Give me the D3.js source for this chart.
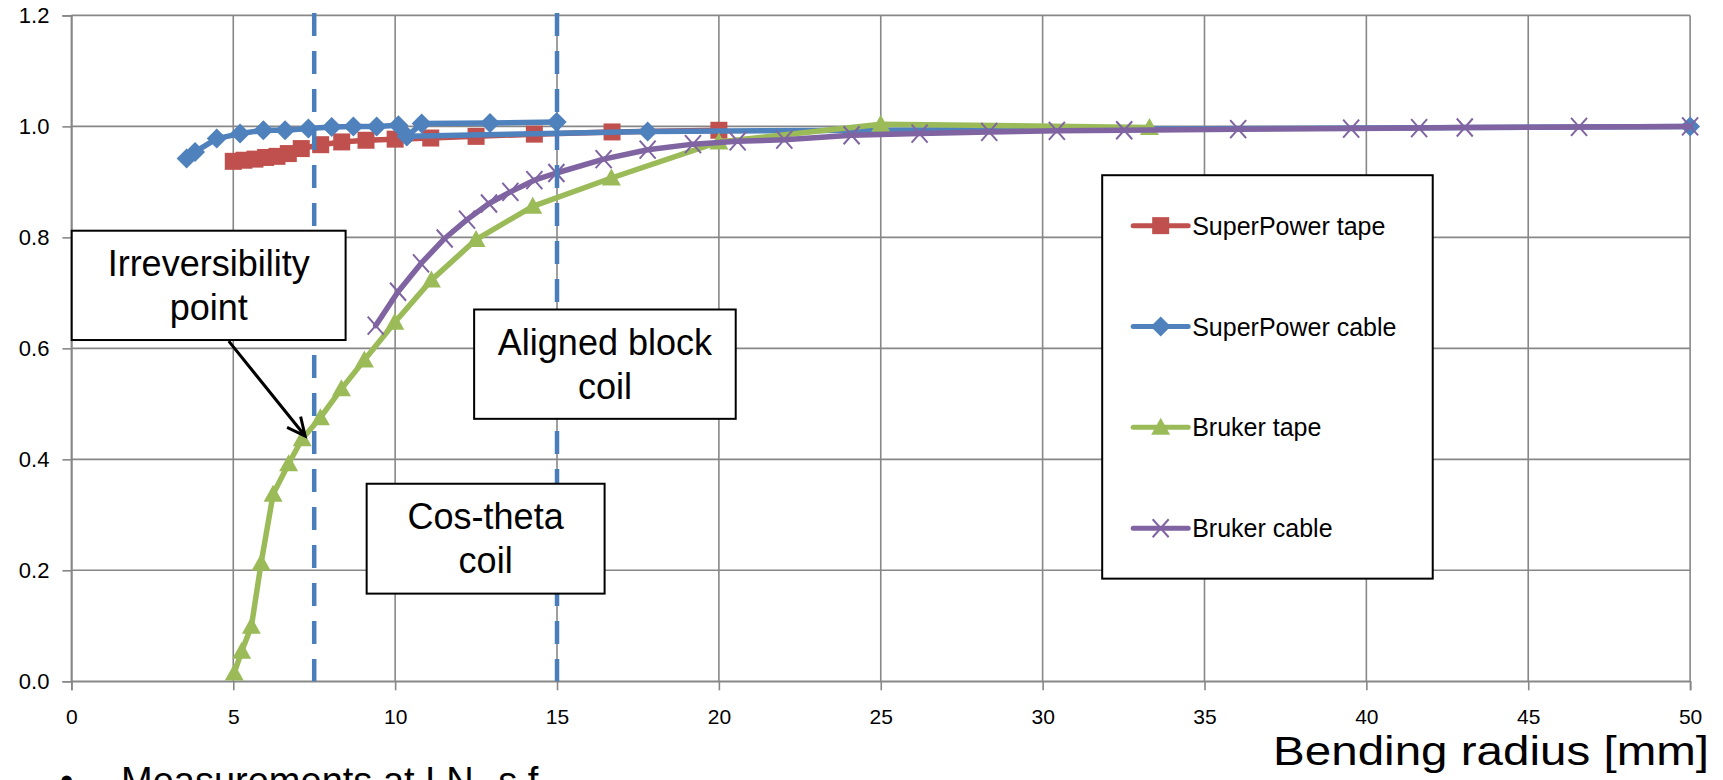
<!DOCTYPE html>
<html><head><meta charset="utf-8">
<script src="https://cdn.jsdelivr.net/npm/d3@7"></script>
<style>body{margin:0;background:#fff;overflow:hidden;} svg{display:block;}</style>
</head><body><svg id="c" width="1723" height="780"></svg>
<script>
// ---------- data ----------
const xTicks = [0, 5, 10, 15, 20, 25, 30, 35, 40, 45, 50];
const yTicks = [0.0, 0.2, 0.4, 0.6, 0.8, 1.0, 1.2];

const seriesNames  = ["SuperPower tape", "SuperPower cable", "Bruker tape", "Bruker cable"];
const seriesColors = ["#c0504d", "#4f81bd", "#9bbb59", "#8064a2"];
const seriesMarkers = ["square", "diamond", "triangle", "cross"];

const spTapeX = [5.0, 5.33, 5.67, 6.0, 6.35, 6.7, 7.1, 7.7, 8.35, 9.1, 10.0, 11.1, 12.5, 14.3, 16.7, 20.0];
const spTapeY = [0.937, 0.939, 0.941, 0.944, 0.946, 0.951, 0.960, 0.967, 0.972, 0.975, 0.977, 0.979, 0.982, 0.986, 0.990, 0.993];

const spCableX  = [3.56, 3.82, 4.49, 5.21, 5.93, 6.6, 7.32, 8.04, 8.71, 9.43, 10.1, 10.36, 10.82, 12.93, 14.99];
const spCableY  = [0.942, 0.954, 0.978, 0.987, 0.993, 0.993, 0.996, 0.999, 1.0, 1.0, 1.002, 0.982, 1.005, 1.006, 1.008];
const spCableX2 = [10.36, 17.8, 50];
const spCableY2 = [0.982, 0.991, 1.0];

const bkTapeX = [5.03, 5.26, 5.56, 5.86, 6.23, 6.71, 7.13, 7.69, 8.34, 9.05, 9.99, 11.12, 12.5, 14.25, 16.68, 20.0, 25.0, 33.3];
const bkTapeY = [0.015, 0.054, 0.099, 0.213, 0.337, 0.392, 0.437, 0.475, 0.527, 0.579, 0.647, 0.723, 0.796, 0.856, 0.907, 0.972, 1.004, 0.998];

const bkCableX = [9.4, 10.09, 10.8, 11.53, 12.22, 12.9, 13.56, 14.3, 14.98, 16.44, 17.8, 19.2, 20.58, 22.02, 24.1, 26.2, 28.35, 30.44, 32.52, 36.04, 39.53, 41.63, 43.04, 46.57, 50];
const bkCableY = [0.641, 0.702, 0.753, 0.798, 0.832, 0.861, 0.882, 0.903, 0.916, 0.941, 0.958, 0.968, 0.973, 0.976, 0.984, 0.987, 0.990, 0.992, 0.993, 0.995, 0.996, 0.997, 0.998, 0.999, 1.0];

const coilRadii = [7.5, 15];
const xTitle = "Bending radius [mm]";

// annotation boxes in data units: [x0, x1, yTop, yBottom], lines of text
const notes = [
  {box: [0.01, 8.47, 0.812, 0.615], lines: ["Irreversibility", "point"]},
  {box: [12.44, 20.52, 0.670, 0.473], lines: ["Aligned block", "coil"]},
  {box: [9.12, 16.47, 0.356, 0.158], lines: ["Cos-theta", "coil"]}
];
const arrowFrom = [4.86, 0.613], arrowTo = [7.22, 0.442];
const legendBox = [31.84, 42.05, 0.912, 0.185];

// ---------- layout ----------
const W = 1723, H = 780;
const L = 71.4, R = 1690.1, T = 15.4, B = 681.3;
const svg = d3.select("#c");
const x = d3.scaleLinear().domain([0, 50]).range([L, R]);
const y = d3.scaleLinear().domain([0, 1.2]).range([B, T]);
const gridColor = "#878787";

// gridlines
const grid = svg.append("g");
grid.selectAll("line.h").data(yTicks).join("line")
  .attr("x1", L).attr("x2", R).attr("y1", d => y(d)).attr("y2", d => y(d))
  .attr("stroke", gridColor).attr("stroke-width", 1.6);
grid.selectAll("line.v").data(xTicks).join("line")
  .attr("y1", T).attr("y2", B).attr("x1", d => x(d)).attr("x2", d => x(d))
  .attr("stroke", gridColor).attr("stroke-width", 1.6);

// axes
const xAxis = d3.axisBottom(x).tickValues(xTicks).tickSize(9).tickPadding(19).tickFormat(d3.format("d"));
const gx = svg.append("g").attr("transform", `translate(0,${B})`).call(xAxis);
const yAxis = d3.axisLeft(y).tickValues(yTicks).tickSize(9).tickPadding(13).tickFormat(d3.format(".1f"));
const gy = svg.append("g").attr("transform", `translate(${L},0)`).call(yAxis);
[gx, gy].forEach(g => {
  g.select(".domain").attr("stroke", gridColor).attr("stroke-width", 1.6);
  g.selectAll(".tick line").attr("stroke", gridColor).attr("stroke-width", 1.6);
  g.selectAll(".tick text").attr("fill", "#000").attr("font-family", "Liberation Sans, Arial, sans-serif");
});
gx.selectAll(".tick text").attr("font-size", 21).attr("dy", "0.71em");
gy.selectAll(".tick text").attr("font-size", 22);

// markers
function markerPath(type) {
  if (type === "square") return "M-8.5,-8.5H8.5V8.5H-8.5Z";
  if (type === "diamond") return "M0,-10L10,0L0,10L-10,0Z";
  if (type === "triangle") return "M0,-9.5L9.5,7.5L-9.5,7.5Z";
  return "M-8,-9L8,9M-8,9L8,-9";
}
function drawMarkers(g, pts, type, color) {
  const sel = g.selectAll(null).data(pts).join("path")
    .attr("d", markerPath(type))
    .attr("transform", d => `translate(${x(d[0])},${y(d[1])})`);
  if (type === "cross") sel.attr("fill", "none").attr("stroke", color).attr("stroke-width", 2);
  else sel.attr("fill", color).attr("stroke", "none");
}
const line = d3.line().x(d => x(d[0])).y(d => y(d[1]));
function zip(a, b) { return a.map((v, i) => [v, b[i]]); }

const runs = [
  [zip(spTapeX, spTapeY)],
  [zip(spCableX, spCableY), zip(spCableX2, spCableY2)],
  [zip(bkTapeX, bkTapeY)],
  [zip(bkCableX, bkCableY)]
];
const plot = svg.append("g");
runs.forEach((r, i) => {
  const g = plot.append("g");
  r.forEach(pts => {
    g.append("path").attr("d", line(pts)).attr("fill", "none")
      .attr("stroke", seriesColors[i]).attr("stroke-width", 5.5)
      .attr("stroke-linejoin", "round").attr("stroke-linecap", "round");
  });
  r.forEach(pts => drawMarkers(g, pts, seriesMarkers[i], seriesColors[i]));
});

// dashed coil lines
svg.append("g").selectAll("line").data(coilRadii).join("line")
  .attr("x1", d => x(d)).attr("x2", d => x(d)).attr("y1", T - 2.4).attr("y2", B)
  .attr("stroke", "#4a7ebb").attr("stroke-width", 4.5).attr("stroke-dasharray", "23,15");

// arrow
const ax0 = x(arrowFrom[0]), ay0 = y(arrowFrom[1]), ax1 = x(arrowTo[0]), ay1 = y(arrowTo[1]);
const ang = Math.atan2(ay1 - ay0, ax1 - ax0);
const ah = 20, spread = 0.45;
svg.append("path")
  .attr("d", `M${ax0},${ay0}L${ax1},${ay1}` +
    `M${ax1 - ah * Math.cos(ang - spread)},${ay1 - ah * Math.sin(ang - spread)}L${ax1},${ay1}` +
    `L${ax1 - ah * Math.cos(ang + spread)},${ay1 - ah * Math.sin(ang + spread)}`)
  .attr("fill", "none").attr("stroke", "#000").attr("stroke-width", 3);

// annotation boxes
notes.forEach(n => {
  const [x0, x1, yt, yb] = n.box;
  const g = svg.append("g");
  g.append("rect").attr("x", x(x0)).attr("y", y(yt)).attr("width", x(x1) - x(x0)).attr("height", y(yb) - y(yt))
    .attr("fill", "#fff").attr("stroke", "#000").attr("stroke-width", 2);
  const cx = (x(x0) + x(x1)) / 2, cy = (y(yt) + y(yb)) / 2;
  n.lines.forEach((t, k) => {
    g.append("text").attr("x", cx).attr("y", cy + (k - 0.5) * 44)
      .attr("text-anchor", "middle").attr("dominant-baseline", "central")
      .attr("font-family", "Liberation Sans, Arial, sans-serif").attr("font-size", 36).attr("fill", "#000").text(t);
  });
});

// legend
const [lx0, lx1, lyt, lyb] = legendBox;
const lg = svg.append("g");
lg.append("rect").attr("x", x(lx0)).attr("y", y(lyt)).attr("width", x(lx1) - x(lx0)).attr("height", y(lyb) - y(lyt))
  .attr("fill", "#fff").attr("stroke", "#000").attr("stroke-width", 2);
const ltop = y(lyt), lh = y(lyb) - y(lyt);
seriesNames.forEach((name, i) => {
  const cy = ltop + lh * (0.125 + i * 0.25);
  const sx = x(lx0) + 31;
  const e = lg.append("g");
  e.append("line").attr("x1", sx).attr("x2", sx + 55).attr("y1", cy).attr("y2", cy)
    .attr("stroke", seriesColors[i]).attr("stroke-width", 5).attr("stroke-linecap", "round");
  const m = e.append("path").attr("d", markerPath(seriesMarkers[i])).attr("transform", `translate(${sx + 27.5},${cy})`);
  if (seriesMarkers[i] === "cross") m.attr("fill", "none").attr("stroke", seriesColors[i]).attr("stroke-width", 2);
  else m.attr("fill", seriesColors[i]);
  e.append("text").attr("x", sx + 59).attr("y", cy).attr("dominant-baseline", "central")
    .attr("font-family", "Liberation Sans, Arial, sans-serif").attr("font-size", 25).attr("fill", "#000").text(name);
});

// x title
svg.append("text").attr("x", R + 19).attr("y", 765).attr("text-anchor", "end")
  .attr("font-family", "Liberation Sans, Arial, sans-serif").attr("font-size", 41)
  .attr("textLength", 436).attr("lengthAdjust", "spacingAndGlyphs").attr("fill", "#000").text(xTitle);

// bullet note (cut off at the bottom of the slide, as in the source)
svg.append("text").attr("x", 60).attr("y", 794)
  .attr("font-family", "Liberation Sans, Arial, sans-serif").attr("font-size", 38).attr("fill", "#000").text("•");
const bt = svg.append("text").attr("x", 121).attr("y", 794)
  .attr("font-family", "Liberation Sans, Arial, sans-serif").attr("font-size", 38).attr("fill", "#000");
bt.append("tspan").text("Measurements at LN");
bt.append("tspan").attr("font-size", 25).attr("dy", 8).text("2");
bt.append("tspan").attr("dy", -8).text(" s.f.");
</script></body></html>
